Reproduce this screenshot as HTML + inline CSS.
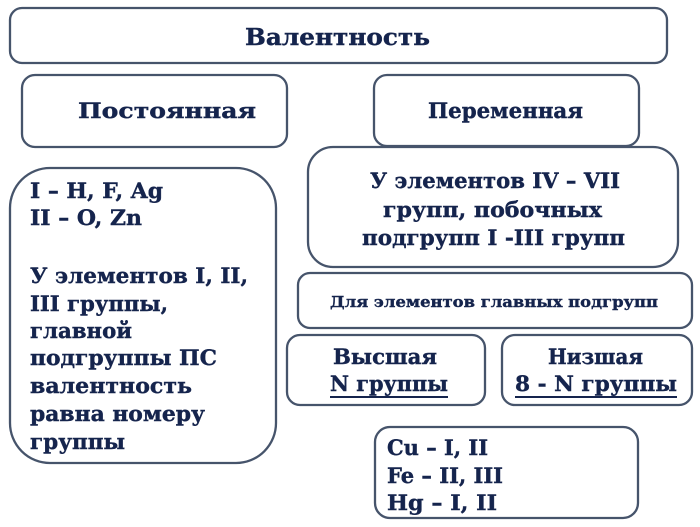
<!DOCTYPE html>
<html><head><meta charset="utf-8"><style>
html,body{margin:0;padding:0;background:#fff;width:700px;height:527px;overflow:hidden}
svg text{font-family:"DejaVu Serif","Liberation Serif","Noto Serif CJK SC",serif;font-weight:bold;fill:#15244d;stroke:#15244d;stroke-width:0.4}
</style></head><body>
<svg width="700" height="527" viewBox="0 0 700 527" xmlns="http://www.w3.org/2000/svg">
<g fill="#fff" stroke="#46546b" stroke-width="2.3">
<rect x="10" y="8" width="657" height="55" rx="12"/>
<rect x="22" y="75" width="265" height="72" rx="13"/>
<rect x="374" y="75" width="265" height="71" rx="13"/>
<rect x="10" y="168" width="266" height="295" rx="40"/>
<rect x="308" y="147" width="370" height="120" rx="25"/>
<rect x="298" y="273" width="394" height="55" rx="12"/>
<rect x="287" y="335" width="198" height="70" rx="13"/>
<rect x="502" y="335" width="190" height="70" rx="13"/>
<rect x="375" y="427" width="263" height="91" rx="15"/>
</g>
<g font-size="21.5">
<text x="245" y="45" font-size="23.5" textLength="185" lengthAdjust="spacingAndGlyphs">Валентность</text>
<text x="78" y="118" textLength="178" lengthAdjust="spacingAndGlyphs">Постоянная</text>
<text x="428" y="118" textLength="155" lengthAdjust="spacingAndGlyphs">Переменная</text>
<text x="30" y="198" textLength="133" lengthAdjust="spacingAndGlyphs">I – H, F, Ag</text>
<text x="30" y="225" textLength="112" lengthAdjust="spacingAndGlyphs">II – O, Zn</text>
<text x="30" y="283" textLength="218" lengthAdjust="spacingAndGlyphs">У элементов I, II,</text>
<text x="30" y="311" textLength="138" lengthAdjust="spacingAndGlyphs">III группы,</text>
<text x="30" y="338" textLength="102" lengthAdjust="spacingAndGlyphs">главной</text>
<text x="30" y="365" textLength="187" lengthAdjust="spacingAndGlyphs">подгруппы ПС</text>
<text x="30" y="393" textLength="162" lengthAdjust="spacingAndGlyphs">валентность</text>
<text x="30" y="421" textLength="175" lengthAdjust="spacingAndGlyphs">равна номеру</text>
<text x="30" y="449" textLength="95" lengthAdjust="spacingAndGlyphs">группы</text>
<text x="370" y="188" textLength="250" lengthAdjust="spacingAndGlyphs">У элементов IV – VII</text>
<text x="383" y="217" textLength="219" lengthAdjust="spacingAndGlyphs">групп, побочных</text>
<text x="362" y="245" textLength="263" lengthAdjust="spacingAndGlyphs">подгрупп I -III групп</text>
<text x="330" y="307" font-size="15" textLength="328" lengthAdjust="spacingAndGlyphs">Для элементов главных подгрупп</text>
<text x="333" y="364" textLength="104" lengthAdjust="spacingAndGlyphs">Высшая</text>
<text x="330" y="391" textLength="118" lengthAdjust="spacingAndGlyphs">N группы</text>
<text x="548" y="364" textLength="95" lengthAdjust="spacingAndGlyphs">Низшая</text>
<text x="515" y="391" textLength="162" lengthAdjust="spacingAndGlyphs">8 - N группы</text>
<text x="387" y="455" textLength="101" lengthAdjust="spacingAndGlyphs">Cu – I, II</text>
<text x="387" y="483" textLength="116" lengthAdjust="spacingAndGlyphs">Fe – II, III</text>
<text x="387" y="510" textLength="110" lengthAdjust="spacingAndGlyphs">Hg – I,  II</text>
</g>
<g stroke="#15244d" stroke-width="2">
<line x1="330" y1="397" x2="448" y2="397"/>
<line x1="515" y1="397" x2="677" y2="397"/>
</g>
</svg>
</body></html>
